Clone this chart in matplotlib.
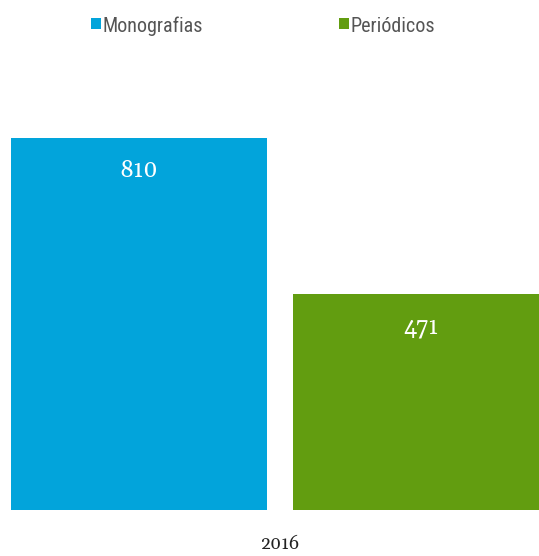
import matplotlib
matplotlib.use("Agg")
import matplotlib.pyplot as plt
from matplotlib.patches import Rectangle

categories = ["Monografias", "Periódicos"]
values = [810, 471]
year_label = "2016"
colors = ["#02A4DB", "#629D10"]

W, H = 539, 556
fig = plt.figure(figsize=(W / 100, H / 100), dpi=100)

px_per_unit = 282.0
bw = 256 / px_per_unit
ax_left, ax_right = 11, 539
ax_bottom, ax_top = H - 510, H - 60
ax = fig.add_axes([ax_left / W, ax_bottom / H, (ax_right - ax_left) / W, (ax_top - ax_bottom) / H])

x = list(range(len(values)))
bars = ax.bar(x, values, width=bw, color=colors)
ax.set_xlim(-bw / 2, -bw / 2 + (ax_right - ax_left) / px_per_unit)
ax.set_ylim(0, values[0] * (ax_top - ax_bottom) / 372)
for s in ax.spines.values():
    s.set_visible(False)
ax.set_yticks([])
ax.set_xticks([0.5])
ax.set_xticklabels([year_label], family=["Gelasio", "Liberation Serif", "DejaVu Serif"], fontsize=13, color="#222222")
ax.tick_params(axis="x", length=0, pad=19)

for b, v in zip(bars, values):
    ax.annotate(str(v), (b.get_x() + b.get_width() / 2, v), xytext=(0, -15), textcoords="offset points",
                ha="center", va="top", color="white", fontsize=17,
                family=["Gelasio", "Liberation Serif", "DejaVu Serif"])

# legend
leg_x = [91, 339]
for lx, c, lab in zip(leg_x, colors, categories):
    fig.patches.append(Rectangle((lx / W, 1 - 29 / H), 10 / W, 11 / H, transform=fig.transFigure,
                                 facecolor=c, edgecolor="none"))
    fig.text((lx + 12) / W, 1 - 26.5 / H, lab, ha="left", va="center", fontsize=14.5, color="#555555",
             family=["Roboto Condensed", "DejaVu Sans"])

fig.savefig("out.png", dpi=100)
